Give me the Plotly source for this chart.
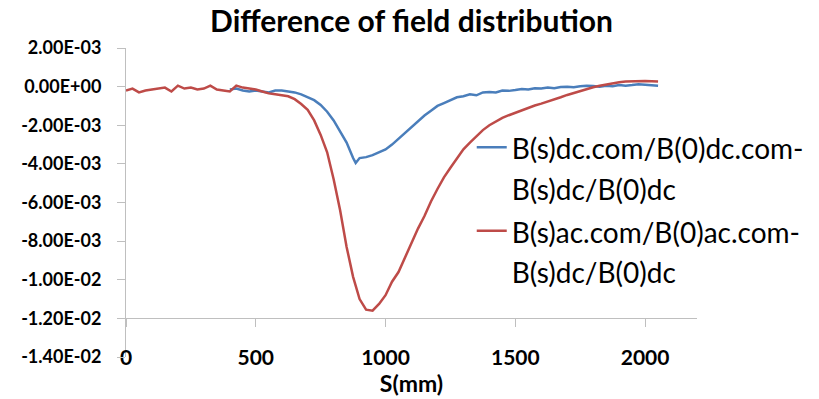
import plotly.graph_objects as go

# ---------------- data ----------------
s_red = [0, 25, 50, 75, 100, 125, 150, 175, 200, 225, 250, 275, 300, 325, 350, 375, 400, 425, 450, 475,
         500, 525, 550, 575, 600, 625, 650, 675, 700, 725, 750, 775, 800, 825, 850, 875, 900, 925, 950, 975,
         1000, 1025, 1050, 1075, 1100, 1125, 1150, 1175, 1200, 1225, 1250, 1275, 1300, 1325, 1350, 1375,
         1400, 1425, 1450, 1475, 1500, 1525, 1550, 1575, 1600, 1625, 1650, 1675, 1700, 1725, 1750, 1775,
         1800, 1825, 1850, 1875, 1900, 1925, 1950, 1975, 2000, 2025, 2050]
ac_diff = [-0.00020, -0.00010, -0.00030, -0.00020, -0.00015, -0.00010, -0.00005, -0.00025, 0.00005, -0.00010,
           -0.00005, -0.00015, -0.00010, 0.00005, -0.00015, -0.00020, -0.00025, 0.00005, -0.00005, -0.00010,
           -0.00015, -0.00025, -0.00035, -0.00040, -0.00046, -0.00050, -0.00065, -0.00090, -0.00120, -0.00175,
           -0.00250, -0.00340, -0.00480, -0.00640, -0.00830, -0.00985, -0.01100, -0.01155, -0.01160, -0.01125,
           -0.01080, -0.01010, -0.00960, -0.00885, -0.00810, -0.00735, -0.00670, -0.00595, -0.00530, -0.00470,
           -0.00420, -0.00370, -0.00325, -0.00290, -0.00255, -0.00225, -0.00200, -0.00180, -0.00162, -0.00148,
           -0.00135, -0.00122, -0.00110, -0.00098, -0.00088, -0.00078, -0.00066, -0.00055, -0.00043, -0.00032,
           -0.00022, -0.00012, -0.00003, 0.00005, 0.00012, 0.00018, 0.00023, 0.00026, 0.00028, 0.00029,
           0.00029, 0.00028, 0.00027]

s_blue = [400, 425, 450, 475, 500, 525, 550, 575, 600, 625, 650, 675, 700, 725, 750, 775, 800, 825, 850, 875,
          885, 900, 925, 950, 975, 1000, 1025, 1050, 1075, 1100, 1125, 1150, 1175, 1200, 1225, 1250, 1275,
          1300, 1325, 1350, 1375, 1400, 1425, 1450, 1475, 1500, 1525, 1550, 1575, 1600, 1625, 1650, 1675,
          1700, 1725, 1750, 1775, 1800, 1825, 1850, 1875, 1900, 1925, 1950, 1975, 2000, 2025, 2050]
dc_diff = [-0.00015, -0.00010, -0.00020, -0.00025, -0.00020, -0.00025, -0.00030, -0.00020, -0.00020, -0.00025,
           -0.00030, -0.00040, -0.00055, -0.00070, -0.00095, -0.00130, -0.00175, -0.00230, -0.00290, -0.00370,
           -0.00395, -0.00370, -0.00365, -0.00355, -0.00340, -0.00325, -0.00300, -0.00270, -0.00240, -0.00205,
           -0.00175, -0.00150, -0.00125, -0.00100, -0.00085, -0.00070, -0.00055, -0.00050, -0.00040, -0.00045,
           -0.00030, -0.00028, -0.00030, -0.00020, -0.00022, -0.00018, -0.00012, -0.00015, -0.00008, -0.00010,
           -0.00005, -0.00008, -0.00002, 0.00000, -0.00003, 0.00002, 0.00005, 0.00003, 0.00000, 0.00005,
           0.00002, 0.00008, 0.00005, 0.00008, 0.00012, 0.00010, 0.00008, 0.00005]

series_names = ["B(s)dc.com/B(0)dc.com-<br>B(s)dc/B(0)dc",
                "B(s)ac.com/B(0)ac.com-<br>B(s)dc/B(0)dc"]

y_tick_vals = [0.002, 0.0, -0.002, -0.004, -0.006, -0.008, -0.010, -0.012, -0.014]
y_tick_text = ["2.00E-03", "0.00E+00", "-2.00E-03", "-4.00E-03", "-6.00E-03",
               "-8.00E-03", "-1.00E-02", "-1.20E-02", "-1.40E-02"]
x_tick_vals = [0, 500, 1000, 1500, 2000]
x_tick_text = ["0", "500", "1000", "1500", "2000"]
x_axis_cross = -0.012

title_text = "Difference of field distribution"
x_title = "S(mm)"

# ---------------- figure ----------------
BLUE = "#4a7ebb"
RED = "#be4b48"
AXIS = "#bfbfbf"
FONT = "Lato"


def legend_label(t):
    return "<br>".join('<span style="font-size:28px">%s</span>' % p for p in t.split("<br>"))


fig = go.Figure()
fig.add_trace(go.Scatter(x=s_blue, y=dc_diff, mode="lines", name=legend_label(series_names[0]),
                         line=dict(color=BLUE, width=2.5)))
fig.add_trace(go.Scatter(x=s_red, y=ac_diff, mode="lines", name=legend_label(series_names[1]),
                         line=dict(color=RED, width=2.5)))

y_lo, y_hi = -0.014, 0.002
cross_pos = (x_axis_cross - y_lo) / (y_hi - y_lo)

fig.update_layout(
    width=819, height=399,
    margin=dict(l=126, r=122, t=48, b=42, autoexpand=False),
    paper_bgcolor="white", plot_bgcolor="white",
    font=dict(family=FONT, color="#000000"),
    title=dict(text="<b>%s</b>" % title_text, x=0.5, xref="paper", xanchor="center",
               y=0.945, yref="container", yanchor="middle",
               font=dict(size=30, family=FONT, color="#000000")),
    showlegend=True,
    legend=dict(x=0.6055, y=0.765, xanchor="left", yanchor="top",
                font=dict(size=31, family=FONT, color="#000000"),
                bgcolor="rgba(0,0,0,0)", valign="top", tracegroupgap=0,
                itemwidth=30),
    xaxis=dict(range=[0, 2200], tickvals=x_tick_vals, ticktext=x_tick_text,
               showgrid=False, zeroline=False, showline=True, linecolor=AXIS, linewidth=1,
               ticks="outside", ticklen=8, tickcolor=AXIS, tickwidth=1,
               anchor="free", position=cross_pos, ticklabelstandoff=12, automargin=False,
               tickfont=dict(size=21, family=FONT, weight="bold", color="#000000"),
               title=dict(text="<b>%s</b>" % x_title, font=dict(size=23, family=FONT, color="#000000"),
                          standoff=0)),
    yaxis=dict(range=[y_lo, y_hi], tickvals=y_tick_vals, ticktext=y_tick_text,
               showgrid=False, zeroline=False, showline=True, linecolor=AXIS, linewidth=1,
               ticks="outside", ticklen=8, tickcolor=AXIS, tickwidth=1,
               ticklabelstandoff=12, automargin=False,
               tickfont=dict(size=18, family=FONT, weight="bold", color="#000000")),
)

fig.write_html("out.html",
               config={"displayModeBar": False},
               post_script="document.body.style.margin='0';document.body.style.overflow='hidden';")
